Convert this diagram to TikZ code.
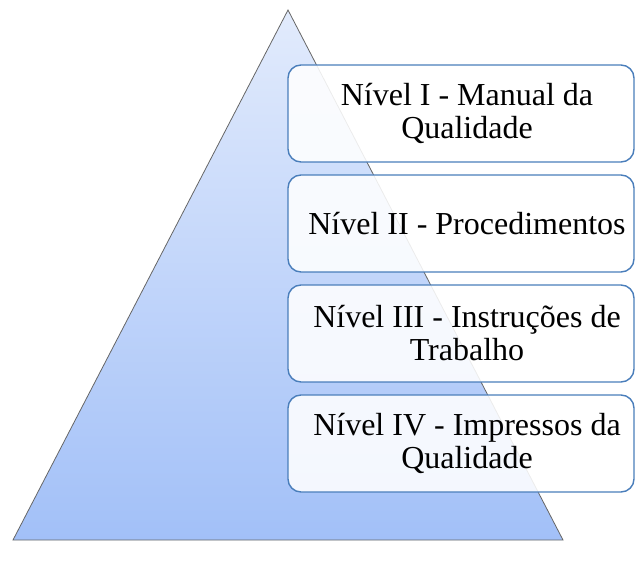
\documentclass[tikz,border=0pt]{standalone}
\usepackage{fontspec}
\setmainfont{Liberation Serif}
\begin{document}
\begin{tikzpicture}[x=1pt,y=-1pt,
  levelbox/.style={draw=boxblue, line width=1.4pt, fill=white, fill opacity=0.88,
    rounded corners=13pt, minimum width=346pt, minimum height=97pt, inner sep=0pt},
  leveltext/.style={align=center, font=\fontsize{32}{33}\selectfont, inner sep=0pt}]
\definecolor{boxblue}{HTML}{4A7EBB}
\definecolor{tritop}{HTML}{E2EBFC}
\definecolor{tribot}{HTML}{A2C0F8}
\useasboundingbox (0,0) rectangle (635,561);
\coordinate (apex) at (288,10);
\coordinate (bl) at (13,540);
\coordinate (br) at (563,540);
\shade[top color=tritop, bottom color=tribot, draw=gray!80!black, line width=0.8pt] (apex) -- (br) -- (bl) -- cycle;
\node[levelbox] (b1) at (461,113.5) {};
\node[levelbox] (b2) at (461,223.5) {};
\node[levelbox] (b3) at (461,333.5) {};
\node[levelbox] (b4) at (461,443.5) {};
\node[leveltext] (t1) at ([xshift=6pt]b1.center) {Nível I - Manual da\\Qualidade};
\node[leveltext] (t2) at ([xshift=6pt]b2.center) {Nível II - Procedimentos};
\node[leveltext] (t3) at ([xshift=6pt]b3.center) {Nível III - Instruções de\\Trabalho};
\node[leveltext] (t4) at ([xshift=6pt]b4.center) {Nível IV - Impressos da\\Qualidade};
\end{tikzpicture}
\end{document}
